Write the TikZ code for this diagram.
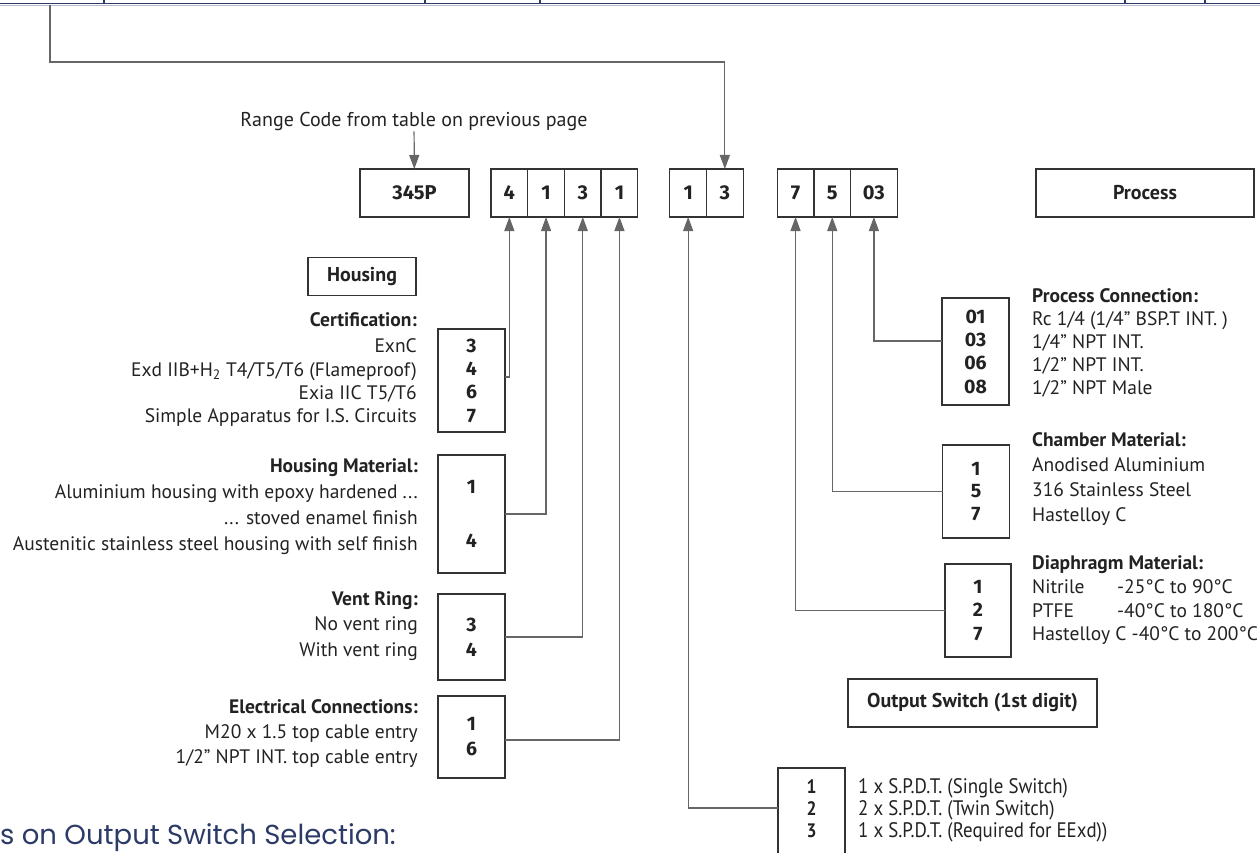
\documentclass[tikz,border=0pt]{standalone}
\usepackage{fontspec}
\setmainfont{PT Sans}
\newfontfamily\codefont{Fira Sans}
\newfontfamily\narrowfont[FakeStretch=0.9]{PT Sans}
\newfontfamily\headfont{Poppins}
\usetikzlibrary{arrows.meta, positioning}
\definecolor{boxc}{HTML}{333333}
\definecolor{linec}{HTML}{666666}
\definecolor{navy}{HTML}{2B3A67}
\definecolor{textc}{HTML}{222222}
\tikzstyle{cell}=[draw=boxc,line width=1.3pt,rectangle,outer sep=0pt,inner sep=0pt,minimum height=48pt,minimum width=36.7pt,text=textc,font=\codefont\bfseries\fontsize{20}{22}\selectfont]
\tikzstyle{optbox}=[draw=boxc,line width=1.3pt,rectangle,outer sep=0pt,inner sep=0pt,minimum width=67pt,align=center,text=textc,font=\codefont\bfseries\fontsize{19.5}{23.3}\selectfont]
\tikzstyle{lab}=[inner sep=0pt,text=textc,font=\fontsize{19.5}{24}\selectfont]
\tikzstyle{labl}=[lab,anchor=east,align=right]
\tikzstyle{labr}=[lab,anchor=west,align=left]
\tikzstyle{link}=[draw=linec,line width=1.2pt]
\newcommand{\ttl}[1]{\textbf{#1}}

\begin{document}
\begin{tikzpicture}[x=1pt,y=-1pt,>={Triangle[length=14pt,width=10pt]}]
    \useasboundingbox (0,0) rectangle (1260,853);
    % table edge at the top
    \draw[navy!35,line width=1pt] (0,5.5) -- (1260,5.5);
    \draw[navy,line width=1.5pt] (0,3.5) -- (1260,3.5);
    \foreach \x in {104,425,540,1125,1205}
        \draw[navy,line width=1.2pt] (\x,0) -- (\x,3.5);

    % code row
    \node[cell, minimum width=109pt] (range) at (414.5,193) {345P};
    \node[cell, right=22pt of range] (hcert) {4};
    \node[cell, right=0pt of hcert] (hmat) {1};
    \node[cell, right=0pt of hmat] (hvent) {3};
    \node[cell, right=0pt of hvent] (helec) {1};
    \node[cell, right=32pt of helec] (swa) {1};
    \node[cell, right=0pt of swa] (swb) {3};
    \node[cell, right=34pt of swb] (dia) {7};
    \node[cell, right=0pt of dia] (cha) {5};
    \node[cell, right=0pt of cha, minimum width=46.6pt] (pco) {03};
    \node[cell, minimum width=218pt, font=\bfseries\fontsize{20}{22}\selectfont] (proc) at (1145,193) {Process};
    \node[lab, font=\fontsize{20}{22}\selectfont] (rc) at (414,122) {Range Code from table on previous page};
    \coordinate (tab) at (50,5);
    \coordinate (bend) at (50,62);

    % housing
    \node[cell, minimum width=108pt, minimum height=38pt, font=\bfseries\fontsize{20}{22}\selectfont] (hbox) at (362,276.5) {Housing};
    \node[optbox, minimum height=103pt] (certbox) at (471.5,380.5) {3\\4\\6\\7};
    \node[optbox, minimum height=118pt] (matbox) at (471.5,514) {1\\[31pt]4};
    \node[optbox, minimum height=86pt] (ventbox) at (471.5,637) {3\\[1.7pt]4};
    \node[optbox, minimum height=82pt] (elecbox) at (471.5,737) {1\\[1.7pt]6};
    \node[labl, font=\fontsize{19.5}{23.3}\selectfont] (certlab) at (417,369.5) {\ttl{Certification:}\\[3.5pt]ExnC\\Exd IIB+H\textsubscript{2} T4/T5/T6 (Flameproof)\\Exia IIC T5/T6\\Simple Apparatus for I.S. Circuits};
    \node[labl, font=\fontsize{19.5}{26}\selectfont] (matlab) at (418,507) {\ttl{Housing Material:}\\Aluminium housing with epoxy hardened ...\\... stoved enamel finish\\Austenitic stainless steel housing with self finish};
    \node[labl, font=\fontsize{19.5}{25.5}\selectfont] (ventlab) at (418,626) {\ttl{Vent Ring:}\\No vent ring\\With vent ring};
    \node[labl, font=\fontsize{19.5}{25}\selectfont] (eleclab) at (418,734) {\ttl{Electrical Connections:}\\M20 x 1.5 top cable entry\\1/2” NPT INT. top cable entry};

    % process
    \node[optbox, minimum height=107pt] (pcbox) at (975.5,351.5) {01\\03\\06\\08};
    \node[optbox, minimum height=93pt, font=\codefont\bfseries\fontsize{19.5}{22.5}\selectfont] (chbox) at (976,491.5) {1\\5\\7};
    \node[optbox, minimum height=93pt, minimum width=66pt, font=\codefont\bfseries\fontsize{19.5}{23.5}\selectfont] (dibox) at (978,610.5) {1\\2\\7};
    \node[labr, font=\fontsize{19.5}{23}\selectfont] (pclab) at (1032,343) {\ttl{Process Connection:}\\Rc 1/4 (1/4” BSP.T INT. )\\1/4” NPT INT.\\1/2” NPT INT.\\1/2” NPT Male};
    \node[labr, font=\fontsize{19.5}{24.7}\selectfont] (chlab) at (1032,479) {\ttl{Chamber Material:}\\Anodised Aluminium\\316 Stainless Steel\\Hastelloy C};
    \node[labr, font=\fontsize{19.5}{23.7}\selectfont] (dilab) at (1032,600.5) {\ttl{Diaphragm Material:}\\\makebox[85pt][l]{Nitrile}-25°C to 90°C\\\makebox[85pt][l]{PTFE}-40°C to 180°C\\Hastelloy C -40°C to 200°C};

    % output switch
    \node[cell, minimum width=249pt, font=\bfseries\fontsize{20}{22}\selectfont] (outbox) at (972.5,703) {Output Switch (1st digit)};
    \node[optbox, minimum height=104pt, font=\narrowfont\bfseries\fontsize{19.5}{22}\selectfont] (swbox) at (811.5,820) {1\\2\\3\\~};
    \node[labr, font=\narrowfont\fontsize{21}{22}\selectfont] (swlab) at (858,810) {1 x S.P.D.T. (Single Switch)\\2 x S.P.D.T. (Twin Switch)\\1 x S.P.D.T. (Required for EExd))};
    \node[lab, anchor=west, text=navy, font=\headfont\fontsize{27.5}{30}\selectfont] (notes) at (0,838) {s on Output Switch Selection:};

    % connectors
    \draw[link,->] (tab) -- (bend) -| (swb.north);
    \draw[link,->] (rc) -- (range);
    \draw[link,->] ([yshift=3.5pt]certbox.east) -| (hcert.south);
    \draw[link,->] (matbox.east) -| (hmat.south);
    \draw[link,->] (ventbox.east) -| (hvent.south);
    \draw[link,->] ([yshift=-3pt]elecbox.east) -| (helec.south);
    \draw[link,->] ([yshift=12pt]swbox.west) -| (swa.south);
    \draw[link,->] (dibox.west) -| (dia.south);
    \draw[link,->] (chbox.west) -| (cha.south);
    \draw[link,->] ([yshift=10.5pt]pcbox.west) -| (pco.south);
\end{tikzpicture}
\end{document}
